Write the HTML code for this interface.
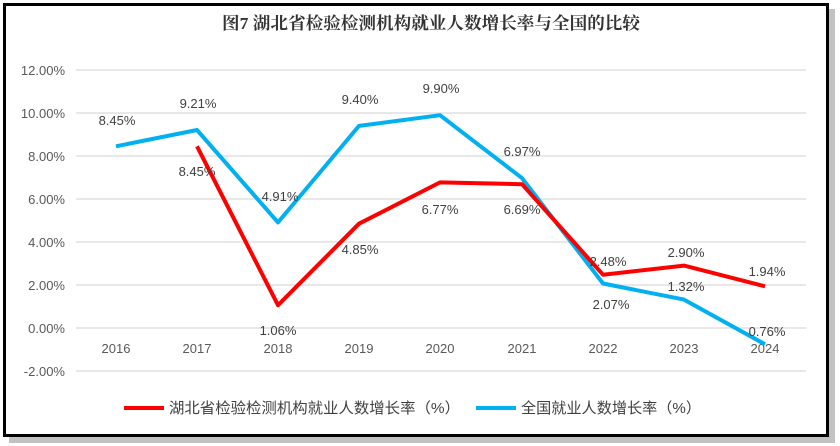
<!DOCTYPE html><html><head><meta charset="utf-8"><style>body{margin:0;background:#fff}svg{display:block}</style></head><body>
<svg width="840" height="446" viewBox="0 0 840 446" xmlns="http://www.w3.org/2000/svg" font-family="Liberation Sans, Noto Sans CJK SC, sans-serif">
<rect x="9" y="9" width="826" height="434" fill="#999" opacity="0.6"/>
<rect x="4.5" y="4.5" width="823" height="431" fill="#fff" stroke="#000" stroke-width="3"/>
<text x="222" y="29" textLength="418" lengthAdjust="spacingAndGlyphs" font-size="17" font-weight="bold" font-family="Liberation Serif, Noto Serif CJK SC, serif" fill="#333">图7  湖北省检验检测机构就业人数增长率与全国的比较</text>
<g stroke="#e0e0e0" stroke-width="1.5">
<line x1="76" x2="806" y1="70" y2="70"/><line x1="76" x2="806" y1="113" y2="113"/><line x1="76" x2="806" y1="156" y2="156"/><line x1="76" x2="806" y1="199" y2="199"/><line x1="76" x2="806" y1="242" y2="242"/><line x1="76" x2="806" y1="285" y2="285"/><line x1="76" x2="806" y1="328" y2="328"/><line x1="76" x2="806" y1="371" y2="371"/></g>
<g font-size="13" fill="#595959" text-anchor="end">
<text x="65" y="75">12.00%</text><text x="65" y="118">10.00%</text><text x="65" y="161">8.00%</text><text x="65" y="204">6.00%</text><text x="65" y="247">4.00%</text><text x="65" y="290">2.00%</text><text x="65" y="333">0.00%</text><text x="65" y="376">-2.00%</text></g>
<g font-size="13" fill="#595959" text-anchor="middle">
<text x="116" y="353">2016</text><text x="197" y="353">2017</text><text x="278" y="353">2018</text><text x="359" y="353">2019</text><text x="440" y="353">2020</text><text x="522" y="353">2021</text><text x="603" y="353">2022</text><text x="684" y="353">2023</text><text x="765" y="353">2024</text></g>
<polyline fill="none" stroke="#00b0f0" stroke-width="4" stroke-linejoin="round" points="116,146.3 197,130 278,222.4 359,125.9 440,115.2 522,178.1 603,283.5 684,299.6 765,344.3"/>
<polyline fill="none" stroke="#ff0000" stroke-width="4" stroke-linejoin="round" points="197,146.3 278,305.2 359,223.7 440,182.4 522,184.2 603,274.7 684,265.6 765,286.3"/>
<g font-size="13" fill="#404040" text-anchor="middle">
<text x="117" y="125">8.45%</text><text x="198" y="108">9.21%</text><text x="280" y="201">4.91%</text><text x="360" y="104">9.40%</text><text x="441" y="93">9.90%</text><text x="522" y="156">6.97%</text><text x="611" y="309">2.07%</text><text x="686" y="291">1.32%</text><text x="767" y="336">0.76%</text>
<text x="197" y="176">8.45%</text><text x="278" y="335">1.06%</text><text x="360" y="254">4.85%</text><text x="440" y="214">6.77%</text><text x="522" y="214">6.69%</text><text x="608" y="266">2.48%</text><text x="686" y="257">2.90%</text><text x="767" y="276">1.94%</text></g>
<line x1="124" x2="164" y1="408" y2="408" stroke="#ff0000" stroke-width="4"/>
<text x="169" y="413" font-size="15" textLength="291" lengthAdjust="spacingAndGlyphs" fill="#404040">湖北省检验检测机构就业人数增长率（%）</text>
<line x1="476" x2="516" y1="408" y2="408" stroke="#00b0f0" stroke-width="4"/>
<text x="521" y="413" font-size="15" textLength="180" lengthAdjust="spacingAndGlyphs" fill="#404040">全国就业人数增长率（%）</text>
</svg></body></html>
